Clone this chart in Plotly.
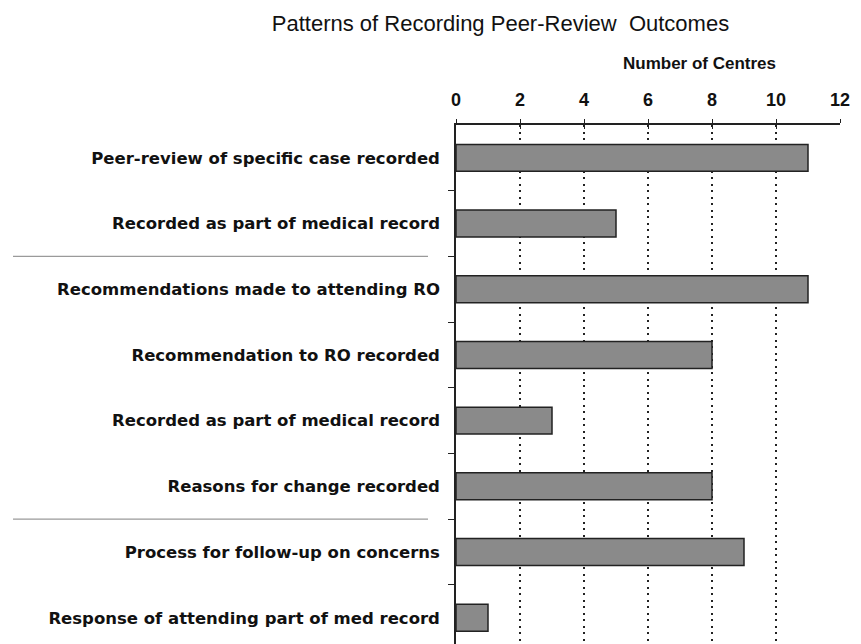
import plotly.graph_objects as go

categories = [
    "Peer-review of specific case recorded",
    "Recorded as part of medical record",
    "Recommendations made to attending RO",
    "Recommendation to RO recorded",
    "Recorded as part of medical record",
    "Reasons for change recorded",
    "Process for follow-up on concerns",
    "Response of attending part of med record",
]
values = [11, 5, 11, 8, 3, 8, 9, 1]
x_ticks = [0, 2, 4, 6, 8, 10, 12]
separators_after = [1, 5]

positions = list(range(len(categories)))

fig = go.Figure()
fig.add_trace(go.Bar(
    x=values, y=positions, orientation="h", width=0.41,
    marker=dict(color="#8a8a8a", line=dict(color="#222222", width=1.5)),
    hoverinfo="x", showlegend=False,
))
fig.add_trace(go.Scatter(x=[0], y=[0], xaxis="x2", yaxis="y2", mode="markers",
                         marker=dict(opacity=0), showlegend=False, hoverinfo="skip"))

FONT = "Liberation Sans, Arial, sans-serif"
LABFONT = "DejaVu Sans, sans-serif"
yrange = [len(categories) - 0.6, -0.5]

fig.update_layout(
    width=861, height=644,
    margin=dict(l=448, r=29, t=117, b=8, autoexpand=False),
    paper_bgcolor="white", plot_bgcolor="white",
    font=dict(family=FONT, color="#111111"),
    title=dict(text="Patterns of Recording Peer-Review  Outcomes", x=0.572, xanchor="center",
               y=0.977, yanchor="middle", font=dict(size=22, family=FONT, color="#111111")),
    xaxis=dict(side="top", range=[0, 12], tickvals=x_ticks, ticktext=[str(t) for t in x_ticks],
               tickfont=dict(size=18, family=FONT, color="#111111", weight="bold"),
               ticks="outside", ticklen=4, tickwidth=1.2, tickcolor="#222",
               showline=True, linecolor="#222", linewidth=1.5,
               showgrid=True, gridcolor="#222", gridwidth=1.5, griddash="2px,4.5px",
               zeroline=False, ticklabelstandoff=6, fixedrange=True, automargin=False),
    xaxis2=dict(overlaying="x", side="top", range=[0, 12], tickvals=x_ticks, showticklabels=False,
                ticks="inside", ticklen=4, tickwidth=1.2, tickcolor="#222", showgrid=False,
                zeroline=False, showline=False, automargin=False),
    yaxis=dict(range=yrange, tickvals=positions, ticktext=categories,
               tickfont=dict(size=16.5, family=LABFONT, color="#111111", weight="bold"),
               ticks="", showline=True, linecolor="#222", linewidth=1.5,
               showgrid=False, zeroline=False, ticklabelstandoff=11, automargin=False),
    yaxis2=dict(overlaying="y", range=yrange, tickvals=[p + 0.5 for p in positions[:-1]],
                showticklabels=False, ticks="outside", ticklen=7, tickwidth=1.2, tickcolor="#222",
                showgrid=False, zeroline=False, showline=False, anchor="x", automargin=False),
    annotations=[dict(text="<b>Number of Centres</b>", xref="paper", yref="paper",
                      x=0.635, y=1.0, yshift=62, xanchor="center", yanchor="middle",
                      showarrow=False, font=dict(size=17, family=FONT, color="#111111"))],
    shapes=[dict(type="line", xref="paper", yref="y", x0=-1.1536, x1=-0.0729,
                 y0=s + 0.5, y1=s + 0.5, line=dict(color="#9a9a9a", width=1.2))
            for s in separators_after],
)

fig.write_html("out.html")
